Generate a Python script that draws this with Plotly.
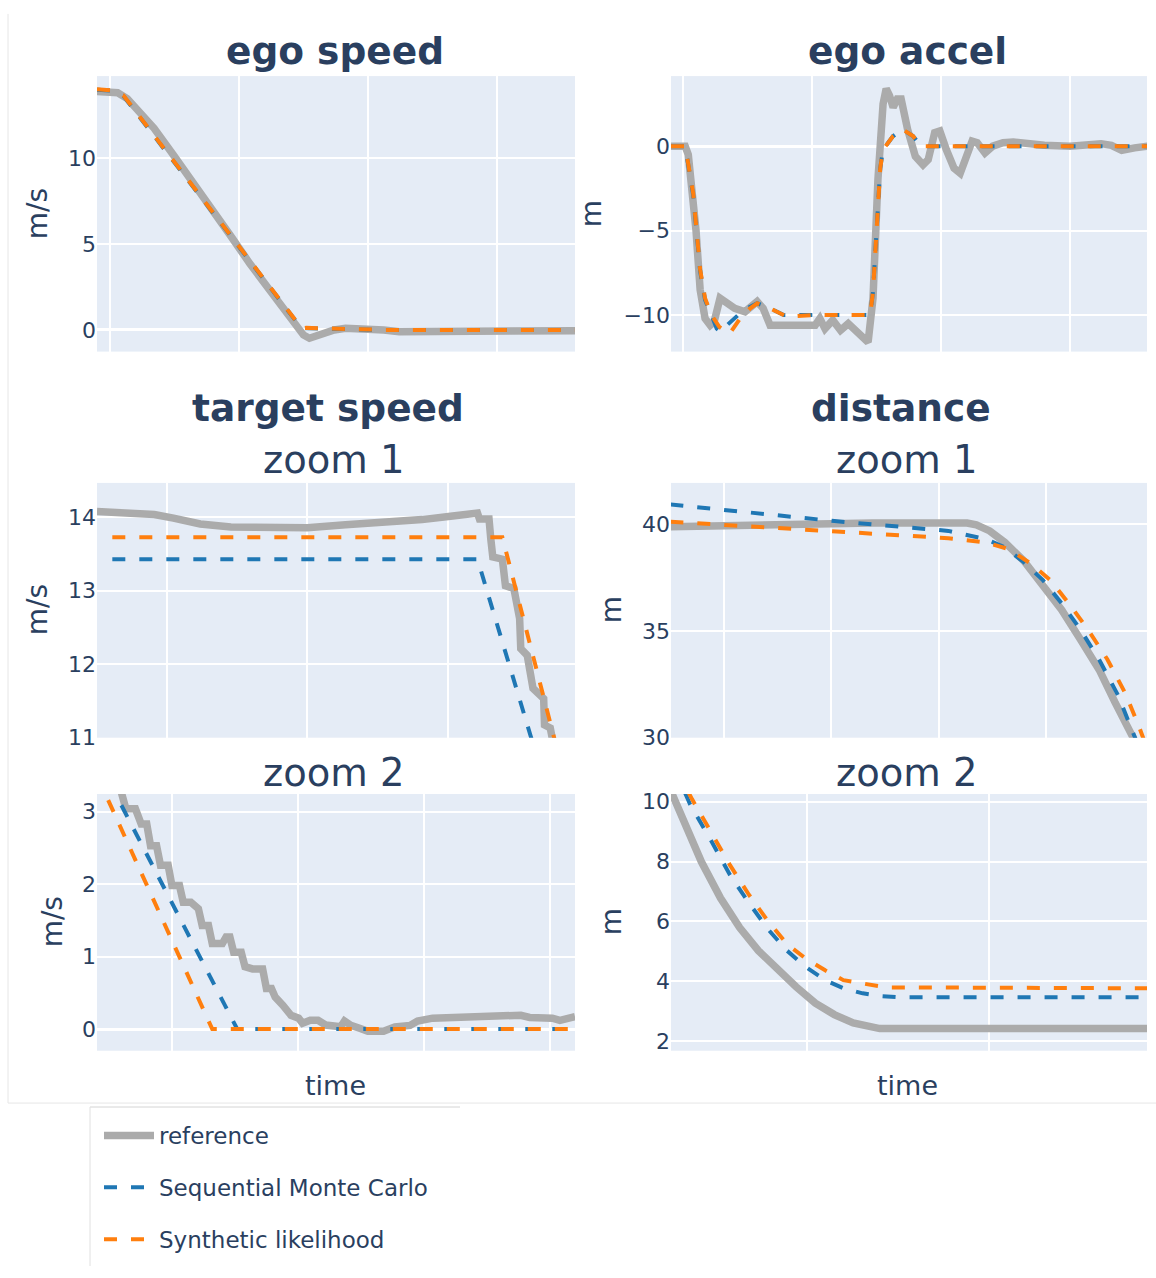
import plotly.graph_objects as go

W, H = 1156, 1278

# ---------------- data ----------------
# ego speed (m/s)
speed_t_ref = [-0.5, 0.08, 0.3, 0.67, 1.71, 2.45, 3.19, 3.93, 4.67, 5.42, 6.16, 6.9, 7.49, 7.72,
               8.09, 8.68, 9.12, 10.0, 10.6, 11.2, 14.0, 18.0]
speed_ref = [13.88, 13.85, 13.8, 13.46, 11.73, 10.19, 8.56, 7.12, 5.48, 3.85, 2.31, 0.77, -0.29, -0.48,
             -0.29, 0.0, 0.1, 0.1, 0.0, -0.1, -0.05, -0.04]
speed_t_model = [-0.5, 0.07, 0.52, 7.42, 7.6, 8.0, 9.0, 10.6, 18.0]
speed_smc = [13.97, 13.92, 13.62, 0.08, 0.1, 0.08, 0.05, 0.0, 0.0]
speed_sl = [14.0, 13.94, 13.65, 0.1, 0.12, 0.1, 0.05, 0.0, 0.0]

# ego acceleration
accel_t_ref = [-0.47, 0.08, 0.2, 0.27, 0.5, 0.66, 0.85, 1.05, 1.2, 1.43, 1.6, 2.0, 2.4, 2.87, 3.1, 3.37,
               4.0, 5.12, 5.3, 5.5, 5.8, 6.1, 6.4, 6.7, 6.95, 7.17, 7.36, 7.55, 7.75, 7.87, 8.0, 8.14,
               8.3, 8.45, 8.7, 9.0, 9.3, 9.5, 9.75, 9.95, 10.2, 10.5, 10.74, 10.95, 11.2, 11.4, 11.7,
               12.0, 12.4, 12.8, 13.4, 14.0, 15.0, 15.8, 16.2, 16.6, 17.0, 17.5, 18.0]
accel_ref = [0.0, 0.0, -0.5, -1.5, -5.0, -8.5, -10.2, -10.6, -10.4, -9.0, -9.2, -9.6, -9.8, -9.2, -9.6, -10.6,
             -10.6, -10.6, -10.2, -10.8, -10.3, -10.9, -10.5, -10.9, -11.2, -11.6, -9.0, -2.0, 2.5, 3.4, 3.0, 2.3,
             2.8, 2.8, 1.0, -0.6, -1.1, -0.8, 0.8, 0.9, -0.2, -1.3, -1.6, -0.6, 0.3, 0.2, -0.4,
             0.0, 0.2, 0.25, 0.15, 0.05, 0.0, 0.05, 0.15, 0.05, -0.25, -0.1, 0.0]
accel_t_smc = [-0.47, 0.08, 0.16, 0.39, 0.66, 0.85, 1.1, 1.3, 1.45, 1.7, 2.2, 2.6, 2.87, 3.37, 3.9,
               5.0, 6.0, 7.25, 7.36, 7.52, 7.64, 7.75, 8.14, 8.5, 8.91, 9.19, 9.4, 18.0]
accel_smc = [0.0, 0.0, -0.75, -2.9, -7.4, -9.1, -10.0, -10.8, -11.0, -10.6, -9.9, -9.5, -9.3, -9.6, -10.0,
             -10.0, -10.0, -10.0, -8.6, -4.3, -1.3, -0.2, 0.6, 1.0, 0.6, 0.05, 0.0, 0.0]
accel_t_sl = [-0.47, 0.08, 0.16, 0.39, 0.66, 0.85, 1.1, 1.4, 1.8, 2.21, 2.6, 2.87, 3.37, 4.03,
              5.0, 6.0, 7.25, 7.36, 7.52, 7.64, 7.75, 8.14, 8.5, 8.91, 9.19, 9.4, 18.0]
accel_sl = [0.0, 0.0, -0.7, -2.8, -7.3, -9.0, -10.0, -10.7, -11.1, -10.2, -9.6, -9.3, -9.6, -10.1,
            -10.0, -10.0, -10.0, -8.6, -4.3, -1.3, -0.2, 0.6, 1.0, 0.6, 0.05, 0.0, 0.0]

# target speed, zoom 1 (m/s)
tgt1_t_ref = [0.504, 0.722, 0.912, 1.048, 1.239, 1.457, 1.729, 2.001, 2.273, 2.545, 2.818, 3.035, 3.212,
              3.226, 3.294, 3.307, 3.321, 3.389, 3.411, 3.471, 3.512, 3.52, 3.566, 3.607, 3.648, 3.683,
              3.689, 3.73, 3.743, 3.8]
tgt1_ref = [14.08, 14.07, 14.04, 13.99, 13.91, 13.87, 13.86, 13.86, 13.9, 13.93, 13.97, 14.02, 14.06,
            13.98, 13.98, 13.7, 13.46, 13.43, 13.07, 13.03, 12.62, 12.21, 12.12, 11.67, 11.58, 11.53,
            11.17, 11.13, 11.0, 10.7]
tgt1_t_smc = [0.613, 3.212, 3.65]
tgt1_smc = [13.43, 13.43, 10.64]
tgt1_t_sl = [0.613, 3.389, 3.8]
tgt1_sl = [13.73, 13.73, 10.68]

# target speed, zoom 2 (m/s)
tgt2_t_ref = [5.598, 5.634, 5.71, 5.756, 5.80, 5.83, 5.878, 5.909, 5.97, 6.0, 6.06, 6.09, 6.15, 6.21, 6.24,
              6.29, 6.32, 6.40, 6.43, 6.46, 6.49, 6.55, 6.58, 6.64, 6.72, 6.75, 6.79, 6.82, 6.88, 6.945,
              7.006, 7.037, 7.098, 7.16, 7.22, 7.28, 7.34, 7.37, 7.42, 7.49, 7.555, 7.68, 7.77, 7.89,
              7.95, 8.07, 8.29, 8.53, 8.65, 8.77, 8.84, 9.02, 9.08, 9.2]
tgt2_ref = [3.27, 3.04, 3.04, 2.83, 2.83, 2.53, 2.53, 2.26, 2.26, 1.98, 1.98, 1.75, 1.75, 1.66, 1.43,
            1.43, 1.18, 1.18, 1.27, 1.27, 1.06, 1.06, 0.86, 0.83, 0.83, 0.56, 0.56, 0.44, 0.33, 0.19,
            0.15, 0.08, 0.12, 0.12, 0.055, 0.03, 0.03, 0.11, 0.05, 0.01, -0.03, -0.03, 0.03, 0.05,
            0.11, 0.15, 0.16, 0.17, 0.2, 0.19, 0.16, 0.15, 0.12, 0.17]
tgt2_t_smc = [5.5, 6.518, 9.2]
tgt2_smc = [3.42, 0.0, 0.0]
tgt2_t_sl = [5.405, 6.32, 9.2]
tgt2_sl = [3.5, 0.0, 0.0]

# distance, zoom 1 (m)
dist1_t_ref = [0.5, 0.975, 1.68, 2.38, 3.264, 3.35, 3.475, 3.616, 3.79, 3.97, 4.144, 4.32, 4.5, 4.64,
               4.76, 4.81, 4.9]
dist1_ref = [39.88, 39.92, 40.03, 40.06, 40.06, 39.97, 39.69, 39.15, 38.3, 37.15, 35.99, 34.6, 33.13,
             31.67, 30.59, 30.0, 28.8]
dist1_t_smc = [0.5, 2.03, 3.09, 3.44, 3.616, 3.79, 3.97, 4.144, 4.32, 4.5, 4.67, 4.81, 4.9]
dist1_smc = [40.93, 40.15, 39.69, 39.3, 38.92, 38.23, 37.38, 36.3, 35.06, 33.6, 31.98, 30.28, 29.1]
dist1_t_sl = [0.5, 2.03, 3.09, 3.44, 3.65, 3.86, 4.04, 4.21, 4.39, 4.57, 4.74, 4.866, 4.94]
dist1_sl = [40.12, 39.69, 39.35, 39.15, 38.84, 38.15, 37.38, 36.3, 35.06, 33.67, 32.05, 30.5, 29.5]

# distance, zoom 2 (m)
dist2_t_ref = [1.253, 1.317, 1.42, 1.525, 1.63, 1.733, 1.84, 1.94, 2.046, 2.15, 2.254, 2.358, 2.4, 3.868]
dist2_ref = [10.35, 9.42, 7.99, 6.78, 5.79, 5.02, 4.36, 3.81, 3.26, 2.88, 2.6, 2.44, 2.41, 2.41]
dist2_t_smc = [1.33, 1.358, 1.473, 1.577, 1.681, 1.785, 1.89, 1.994, 2.1, 2.2, 2.306, 2.4, 2.5, 3.868]
dist2_smc = [10.3, 9.91, 8.7, 7.55, 6.62, 5.74, 5.02, 4.47, 4.03, 3.76, 3.59, 3.5, 3.46, 3.46]
dist2_t_sl = [1.35, 1.369, 1.473, 1.577, 1.681, 1.785, 1.89, 1.994, 2.1, 2.2, 2.306, 2.36, 2.44, 3.868]
dist2_sl = [10.3, 10.08, 8.98, 7.88, 6.89, 6.01, 5.24, 4.75, 4.36, 4.03, 3.92, 3.87, 3.79, 3.76]

series_names = ["reference", "Sequential Monte Carlo", "Synthetic likelihood"]
series_colors = ["#ababab", "#1f77b4", "#ff7f0e"]

panels = [
    # (axis suffix, [(t, y) for reference, SMC, SL])
    ("", [(speed_t_ref, speed_ref), (speed_t_model, speed_smc), (speed_t_model, speed_sl)]),
    ("2", [(accel_t_ref, accel_ref), (accel_t_smc, accel_smc), (accel_t_sl, accel_sl)]),
    ("3", [(tgt1_t_ref, tgt1_ref), (tgt1_t_smc, tgt1_smc), (tgt1_t_sl, tgt1_sl)]),
    ("4", [(dist1_t_ref, dist1_ref), (dist1_t_smc, dist1_smc), (dist1_t_sl, dist1_sl)]),
    ("5", [(tgt2_t_ref, tgt2_ref), (tgt2_t_smc, tgt2_smc), (tgt2_t_sl, tgt2_sl)]),
    ("6", [(dist2_t_ref, dist2_ref), (dist2_t_smc, dist2_smc), (dist2_t_sl, dist2_sl)]),
]

fig = go.Figure()
for p_i, (suffix, series) in enumerate(panels):
    for s_i, (tx, vy) in enumerate(series):
        if s_i == 0:
            line = dict(color=series_colors[0], width=7.5)
        else:
            line = dict(color=series_colors[s_i], width=4, dash="13px,14px")
        fig.add_trace(go.Scatter(
            x=tx, y=vy, mode="lines", line=line,
            name=series_names[s_i], legendgroup=series_names[s_i],
            showlegend=(p_i == 0),
            xaxis="x" + suffix, yaxis="y" + suffix,
        ))


def px_x(v):
    return v / W


def px_y(v):
    return 1 - v / H


# plot-area boxes in pixels: left, right / top, bottom
col_l = (97, 575)
col_r = (671, 1147)
row_1 = (73, 352)
row_2 = (485, 743)
row_3 = (800, 1060)

axis_specs = {
    "": (col_l, row_1, [-0.5, 18.0], [0, 5, 10, 15], [-1.26, 14.77], 5, 0),
    "2": (col_r, row_1, [-0.47, 17.98], [0, 5, 10, 15], [-12.16, 4.15], 5, 0),
    "3": (col_l, row_2, [0.504, 3.906], [1, 2, 3], [10.997, 14.47], 1, 11),
    "4": (col_r, row_2, [0.506, 4.94], [1, 2, 3, 4], [29.99, 41.94], 5, 30),
    "5": (col_l, row_3, [5.405, 9.2], [6, 7, 8, 9], [-0.3, 3.245], 1, 0),
    "6": (col_r, row_3, [1.253, 3.868], [2, 3], [1.67, 10.26], 2, 2),
}

FONT = "DejaVu Sans"
TXT = "#2a3f5f"

layout_axes = {}
for suffix, (cx, ry, xr, xt, yr, dt, t0) in axis_specs.items():
    layout_axes["xaxis" + suffix] = dict(
        domain=[px_x(cx[0]), px_x(cx[1])], range=xr, tickvals=xt,
        showticklabels=False, showgrid=True, gridcolor="white", gridwidth=2,
        zeroline=False, anchor="y" + suffix,
    )
    layout_axes["yaxis" + suffix] = dict(
        domain=[px_y(ry[1]), px_y(ry[0])], range=yr, dtick=dt, tick0=t0,
        showgrid=True, gridcolor="white", gridwidth=2,
        zeroline=True, zerolinecolor="white", zerolinewidth=3,
        tickfont=dict(size=22, family=FONT, color=TXT), anchor="x" + suffix,
    )

annotations = []


def label(text, x, y, size, angle=0):
    annotations.append(dict(
        text=text, x=px_x(x), y=px_y(y), xref="paper", yref="paper",
        xanchor="center", yanchor="middle", showarrow=False, textangle=angle,
        font=dict(size=size, family=FONT, color=TXT),
    ))


label("<b>ego speed</b>", 335, 48, 37.5)
label("<b>ego accel</b>", 907, 48, 37.5)
label("<b>target speed</b>", 328, 409, 37.5)
label("<b>distance</b>", 901, 409, 37.5)
for cx in (334, 907):
    label("zoom 1", cx, 461, 38.5)
    label("zoom 2", cx, 778, 38.5)
label("time", 335, 1095, 27)
label("time", 907, 1095, 27)
label("m/s", 37, 213, 28, -90)
label("m", 591, 213, 28, -90)
label("m/s", 37, 614, 28, -90)
label("m", 611, 614, 28, -90)
label("m/s", 52, 930, 28, -90)
label("m", 611, 930, 28, -90)

frame = "#e6e6e6"
shapes = [
    dict(type="line", xref="paper", yref="paper", x0=px_x(8), x1=px_x(8), y0=px_y(10), y1=px_y(1113),
         line=dict(color=frame, width=1)),
    dict(type="line", xref="paper", yref="paper", x0=px_x(8), x1=1.0, y0=px_y(1113), y1=px_y(1113),
         line=dict(color=frame, width=1)),
    dict(type="line", xref="paper", yref="paper", x0=px_x(90), x1=px_x(460), y0=px_y(1117), y1=px_y(1117),
         line=dict(color="#d4d4d4", width=1)),
    dict(type="line", xref="paper", yref="paper", x0=px_x(90), x1=px_x(90), y0=px_y(1117), y1=0,
         line=dict(color="#e0e0e0", width=1)),
]

fig.update_layout(
    width=W, height=H, template="plotly",
    margin=dict(l=0, r=0, t=0, b=0),
    paper_bgcolor="white", plot_bgcolor="#e5ecf6",
    font=dict(family=FONT, color=TXT),
    showlegend=True,
    legend=dict(
        x=px_x(99), y=px_y(1124), xanchor="left", yanchor="top",
        font=dict(size=23, family=FONT, color=TXT),
        bgcolor="rgba(0,0,0,0)", tracegroupgap=19, traceorder="grouped",
        itemwidth=50,
    ),
    annotations=annotations,
    shapes=shapes,
    **layout_axes,
)

fig.write_html("out.html")
